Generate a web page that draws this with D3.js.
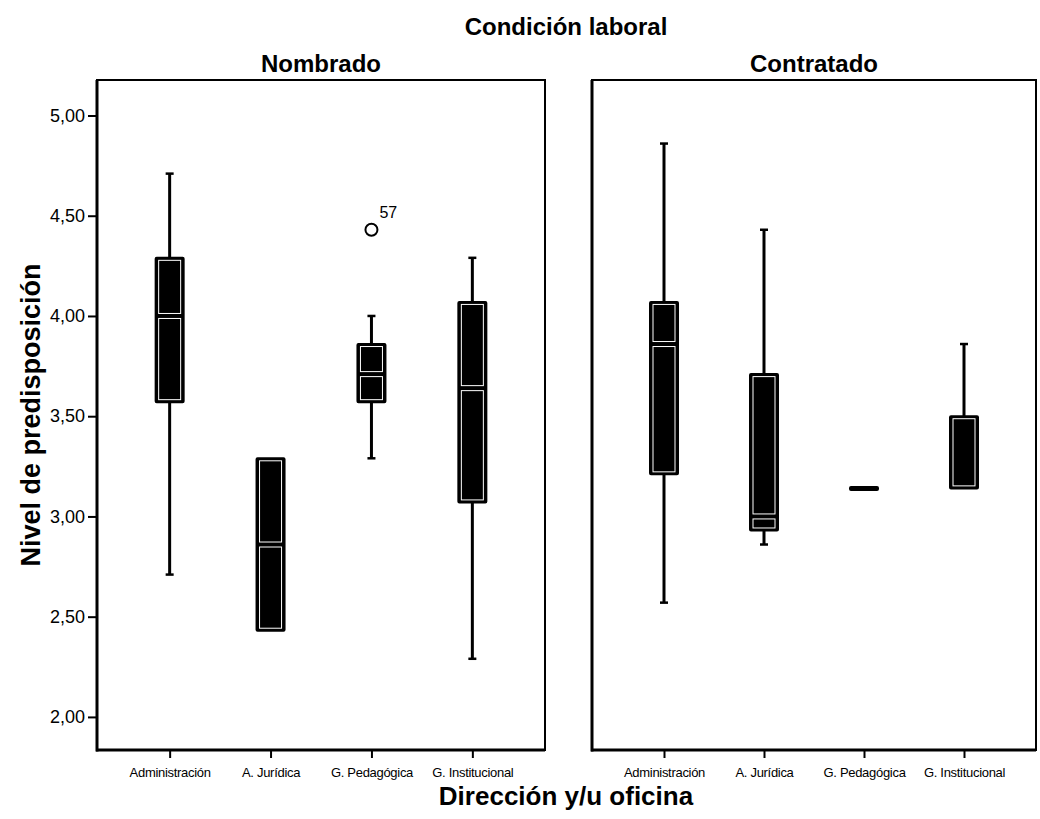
<!DOCTYPE html>
<html lang="es">
<head>
<meta charset="utf-8">
<script src="https://cdn.jsdelivr.net/npm/d3@7"></script>
<style>
  html, body { margin: 0; padding: 0; background: #fff; }
  svg { display: block; font-family: "Liberation Sans", Arial, sans-serif; }
</style>
</head>
<body>
<svg id="chart" width="1040" height="819"></svg>
<script>
// Panels (Condición laboral) and categories (Dirección y/u oficina)
const panels = ["Nombrado", "Contratado"];
const categories = ["Administración", "A. Jurídica", "G. Pedagógica", "G. Institucional"];

// Box-plot statistics per category, Nombrado
const nombradoLow    = [2.71, 2.43, 3.29, 2.29];
const nombradoQ1     = [3.57, 2.43, 3.57, 3.07];
const nombradoMedian = [4.00, 2.86, 3.71, 3.64];
const nombradoQ3     = [4.29, 3.29, 3.86, 4.07];
const nombradoHigh   = [4.71, 3.29, 4.00, 4.29];

// Box-plot statistics per category, Contratado
const contratadoLow    = [2.57, 2.86, 3.14, 3.14];
const contratadoQ1     = [3.21, 2.93, 3.14, 3.14];
const contratadoMedian = [3.86, 3.00, 3.14, 3.14];
const contratadoQ3     = [4.07, 3.71, 3.14, 3.50];
const contratadoHigh   = [4.86, 4.43, 3.14, 3.86];

// Outlying cases
const outlierPanel    = ["Nombrado"];
const outlierCategory = ["G. Pedagógica"];
const outlierValue    = [4.43];
const outlierLabel    = ["57"];

// Value axis ticks
const yTicks = [2.0, 2.5, 3.0, 3.5, 4.0, 4.5, 5.0];

const mainTitle = "Condición laboral";
const xTitle = "Dirección y/u oficina";
const yTitle = "Nivel de predisposición";

// Build the per-panel stats tables
function buildStats(low, q1, med, q3, high) {
  return categories.map((c, i) => ({ category: c, low: low[i], q1: q1[i], median: med[i], q3: q3[i], high: high[i] }));
}
const statsByPanel = {
  "Nombrado": buildStats(nombradoLow, nombradoQ1, nombradoMedian, nombradoQ3, nombradoHigh),
  "Contratado": buildStats(contratadoLow, contratadoQ1, contratadoMedian, contratadoQ3, contratadoHigh)
};
const outliers = outlierValue.map((v, i) => ({ panel: outlierPanel[i], category: outlierCategory[i], value: v, label: outlierLabel[i] }));

const svg = d3.select("#chart");
const plotTop = 80, plotBottom = 750;
const panelRanges = { "Nombrado": [97, 545], "Contratado": [592, 1036] };

const y = d3.scaleLinear().domain([1.835, 5.177]).range([plotBottom, plotTop]);
const fmt = d => d3.format(".2f")(d).replace(".", ",");
const boxW = 28, capW = 8;

// Overall title
svg.append("text")
  .attr("x", 566).attr("y", 35)
  .attr("text-anchor", "middle")
  .style("font-size", "24px").style("font-weight", "bold")
  .text(mainTitle);

panels.forEach((p, pi) => {
  const [x0, x1] = panelRanges[p];
  const x = d3.scalePoint().domain(categories).range([x0, x1]).padding(0.72);
  const g = svg.append("g");

  // Panel header
  g.append("text")
    .attr("x", (x0 + x1) / 2).attr("y", 72)
    .attr("text-anchor", "middle")
    .style("font-size", "24px").style("font-weight", "bold")
    .text(p);

  // Panel frame
  g.append("rect")
    .attr("x", x0).attr("y", plotTop)
    .attr("width", x1 - x0).attr("height", plotBottom - plotTop)
    .attr("fill", "none").attr("stroke", "#000").attr("stroke-width", 2);
  g.append("line")
    .attr("x1", x0).attr("x2", x0).attr("y1", plotTop).attr("y2", plotBottom + 1.5)
    .attr("stroke", "#000").attr("stroke-width", 3);
  g.append("line")
    .attr("x1", x0 - 1).attr("x2", x1).attr("y1", plotBottom).attr("y2", plotBottom)
    .attr("stroke", "#000").attr("stroke-width", 3);

  // Category axis
  const xAxis = g.append("g")
    .attr("transform", `translate(0,${plotBottom})`)
    .call(d3.axisBottom(x).tickSize(8).tickPadding(10));
  xAxis.select(".domain").remove();
  xAxis.selectAll(".tick line").attr("stroke", "#000").attr("stroke-width", 2);
  xAxis.selectAll(".tick text")
    .attr("fill", "#000")
    .style("font-size", "13px")
    .style("font-family", "\"Liberation Sans\", Arial, sans-serif")
    .style("letter-spacing", "-0.3px");

  // Value axis only on the first panel
  if (pi === 0) {
    const yAxis = g.append("g")
      .attr("transform", `translate(${x0},0)`)
      .call(d3.axisLeft(y).tickValues(yTicks).tickFormat(fmt).tickSize(9).tickPadding(3));
    yAxis.select(".domain").remove();
    yAxis.selectAll(".tick line").attr("stroke", "#000").attr("stroke-width", 2);
    yAxis.selectAll(".tick text")
      .attr("fill", "#000")
      .style("font-size", "18px")
      .style("font-family", "\"Liberation Sans\", Arial, sans-serif");
  }

  const stats = statsByPanel[p];
  const items = g.selectAll("g.box").data(stats).enter().append("g").attr("class", "box")
    .attr("transform", d => `translate(${x(d.category)},0)`);

  // Whiskers
  items.filter(d => d.high > d.q3).append("line")
    .attr("x1", 0).attr("x2", 0)
    .attr("y1", d => y(d.q3)).attr("y2", d => y(d.high))
    .attr("stroke", "#000").attr("stroke-width", 3);
  items.filter(d => d.high > d.q3).append("line")
    .attr("x1", -capW / 2).attr("x2", capW / 2)
    .attr("y1", d => y(d.high)).attr("y2", d => y(d.high))
    .attr("stroke", "#000").attr("stroke-width", 2.5);
  items.filter(d => d.low < d.q1).append("line")
    .attr("x1", 0).attr("x2", 0)
    .attr("y1", d => y(d.q1)).attr("y2", d => y(d.low))
    .attr("stroke", "#000").attr("stroke-width", 3);
  items.filter(d => d.low < d.q1).append("line")
    .attr("x1", -capW / 2).attr("x2", capW / 2)
    .attr("y1", d => y(d.low)).attr("y2", d => y(d.low))
    .attr("stroke", "#000").attr("stroke-width", 2.5);

  // Boxes: solid black with thin white inner outlines split at the median
  items.append("rect")
    .attr("x", -boxW / 2)
    .attr("y", d => y(d.q3) - (y(d.q1) - y(d.q3) < 3 ? 1.5 : 0))
    .attr("width", boxW)
    .attr("height", d => Math.max(3, y(d.q1) - y(d.q3)))
    .attr("fill", "#000").attr("stroke", "#000").attr("stroke-width", 2)
    .attr("rx", 1);

  const inset = 3, gap = 2.5;
  items.each(function(d) {
    const sel = d3.select(this);
    const segs = [[y(d.q3) + gap, y(d.median) - gap], [y(d.median) + gap, y(d.q1) - gap]];
    segs.forEach(([a, b]) => {
      if (b - a > 2) {
        sel.append("rect")
          .attr("x", -boxW / 2 + inset).attr("y", a)
          .attr("width", boxW - 2 * inset).attr("height", b - a)
          .attr("fill", "none").attr("stroke", "#fff").attr("stroke-width", 1);
      }
    });
  });

  // Outliers
  const po = outliers.filter(o => o.panel === p);
  g.selectAll("circle.out").data(po).enter().append("circle")
    .attr("class", "out")
    .attr("cx", d => x(d.category)).attr("cy", d => y(d.value))
    .attr("r", 6)
    .attr("fill", "#fff").attr("stroke", "#000").attr("stroke-width", 2);
  g.selectAll("text.out").data(po).enter().append("text")
    .attr("class", "out")
    .attr("x", d => x(d.category) + 8).attr("y", d => y(d.value) - 12)
    .style("font-size", "16px")
    .text(d => d.label);
});

// Axis titles
svg.append("text")
  .attr("x", 566).attr("y", 805)
  .attr("text-anchor", "middle")
  .style("font-size", "26px").style("font-weight", "bold")
  .text(xTitle);

svg.append("text")
  .attr("transform", `translate(40,${(plotTop + plotBottom) / 2}) rotate(-90)`)
  .attr("text-anchor", "middle")
  .style("font-size", "27px").style("font-weight", "bold")
  .text(yTitle);
</script>
</body>
</html>
